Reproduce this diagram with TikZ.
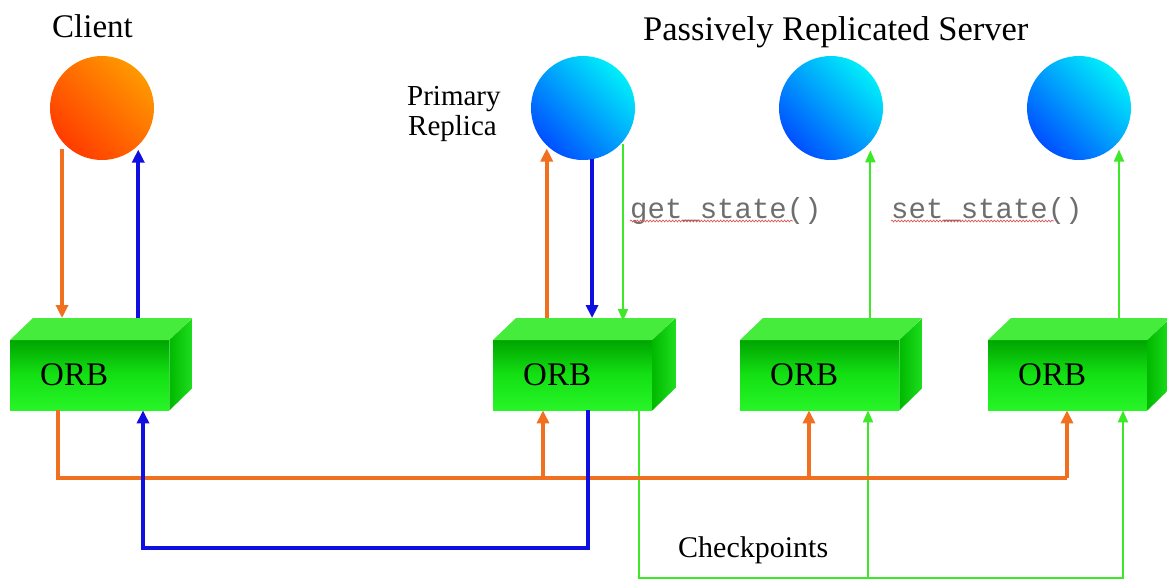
\documentclass[tikz,border=0pt]{standalone}
\usepackage{fontspec}
\setmainfont{Liberation Serif}
\setmonofont{Liberation Mono}
\usetikzlibrary{arrows.meta,calc,decorations.pathmorphing}
\definecolor{ora}{RGB}{240,112,32}
\definecolor{blu}{RGB}{15,15,225}
\definecolor{grn}{RGB}{60,232,40}
\definecolor{frtop}{RGB}{0,165,0}
\definecolor{frmid}{RGB}{20,225,20}
\definecolor{frbot}{RGB}{40,245,40}
\definecolor{topface}{RGB}{70,236,60}
\definecolor{sidea}{RGB}{0,185,0}
\definecolor{sideb}{RGB}{30,222,30}
\definecolor{orlight}{RGB}{255,152,0}
\definecolor{ordark}{RGB}{255,60,0}
\definecolor{bllight}{RGB}{0,238,250}
\definecolor{bldark}{RGB}{0,80,255}
\definecolor{codegray}{RGB}{110,110,110}
\definecolor{squig}{RGB}{220,90,90}
\tikzset{
  ball/.style={circle, minimum size=104pt, inner sep=0pt},
  orangeball/.style={ball, top color=orlight, bottom color=ordark, shading angle=-45},
  blueball/.style={ball, top color=bllight, bottom color=bldark, shading angle=-45},
  orbfront/.style={minimum width=159pt, minimum height=70pt, inner sep=0pt,
     top color=frtop, bottom color=frbot, middle color=frmid},
  orbtxt/.style={font=\fontsize{33}{33}\selectfont, inner sep=0pt, anchor=base west},
  oarr/.style={draw=ora, line width=3.7pt, -{Triangle[length=13pt,width=12pt]}},
  oline/.style={draw=ora, line width=3.7pt},
  barr/.style={draw=blu, line width=4pt, -{Triangle[length=13pt,width=12pt]}},
  garr/.style={draw=grn, line width=2pt, -{Triangle[length=12pt,width=10pt]}},
  gline/.style={draw=grn, line width=2pt},
  lbl/.style={inner sep=0pt, anchor=base west},
  squiggle/.style={draw=squig, line width=0.7pt, decorate,
     decoration={snake, amplitude=0.9pt, segment length=3.2pt}},
}
\newcommand\orbbox[2]{%
  \node[orbfront, anchor=north west] (#1) at (#2,340) {};
  \coordinate (#1top) at (#2,318);
  \fill[topface] (#1.north west) -- ++(23,-22) -- ++(159,0) -- (#1.north east) -- cycle;
  \shade[left color=sidea, right color=sideb] (#1.north east) -- ++(23,-22) -- ++(0,70) -- (#1.south east) -- cycle;
  \node[orbtxt] (#1txt) at (#2+30,385) {ORB};
}
\begin{document}
\begin{tikzpicture}[x=1pt, y=-1pt, line join=miter]
\useasboundingbox (0,0) rectangle (1167,579);
\fill[white] (0,0) rectangle (1167,579);

% titles
\node[lbl, font=\fontsize{33}{33}\selectfont] (client) at (52,37) {Client};
\node[lbl, font=\fontsize{34.5}{34.5}\selectfont] (server) at (643,40) {Passively Replicated Server};
\node[lbl, font=\fontsize{29}{30}\selectfont] (prim1) at (407,105) {Primary};
\node[lbl, font=\fontsize{29}{30}\selectfont] (prim2) at (408,135) {Replica};

% balls
\node[orangeball] (c0) at (102,108) {};
\node[blueball] (c1) at (583,108) {};
\node[blueball] (c2) at (831,108) {};
\node[blueball] (c3) at (1079,108) {};

% ORB boxes
\orbbox{orb1}{10}
\orbbox{orb2}{493}
\orbbox{orb3}{740}
\orbbox{orb4}{988}

% method labels
\node[lbl, font=\ttfamily\fontsize{29}{29}\selectfont, text=codegray] (gs) at (630,218) {get\_state()};
\node[lbl, font=\ttfamily\fontsize{29}{29}\selectfont, text=codegray] (ss) at (891,218) {set\_state()};
\draw[squiggle] (gs.base west) ++(0,3) -- ++(163,0);
\draw[squiggle] (ss.base west) ++(0,3) -- ++(163,0);

\node[lbl, font=\fontsize{30}{30}\selectfont] (chk) at (678,557) {Checkpoints};

% client <-> ORB
\draw[oarr] ([yshift=-7pt]c0.220) -- (c0.220 |- orb1top);
\draw[barr] (c0.314 |- orb1top) -- ([yshift=-4pt]c0.314);

% primary <-> ORB
\draw[oarr] (c1.226 |- orb2top) -- ([yshift=-3pt]c1.226);
\draw[barr] (c1.280) -- (c1.280 |- orb2top);
\draw[garr] ([yshift=-2pt]c1.320) -- ([yshift=-3pt]c1.320 |- orb2top);

% backups
\draw[garr] (c2.319 |- orb3top) -- ([yshift=-8pt]c2.319);
\draw[garr] (c3.320 |- orb4top) -- ([yshift=-8pt]c3.320);

% bottom buses
\coordinate (obus) at (58,478);
\coordinate (bbus) at (143,548);
\coordinate (gbus) at (639,578);

% green checkpoints
\draw[garr] (gbus |- orb2.south) -- (gbus) -- (1123,578) -- (1123,0 |- orb4.south);
\draw[garr] (868,578) -- (868,0 |- orb3.south);

% orange requests
\draw[oline] (obus |- orb1.south) -- (obus) -- (1067,478);
\draw[oarr] (1067,478) -- (1067,0 |- orb4.south);
\draw[oarr] (543,478) -- (543,0 |- orb2.south);
\draw[oarr] (809,478) -- (809,0 |- orb3.south);

% blue reply
\draw[barr] (588,0 |- orb2.south) -- (588,548) -- (bbus) -- (bbus |- orb1.south);
\end{tikzpicture}
\end{document}
